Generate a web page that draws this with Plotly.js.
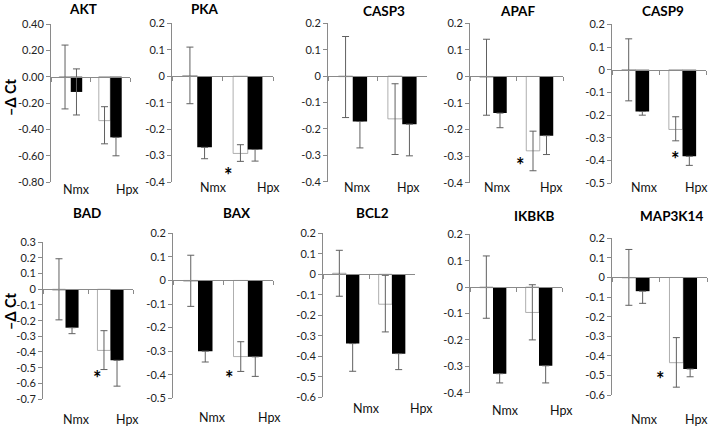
<!DOCTYPE html>
<html><head><meta charset="utf-8">
<script src="https://cdn.plot.ly/plotly-3.0.1.min.js"></script>
<style>html,body{margin:0;padding:0;background:#fff}</style>
</head><body><div id="chart" style="width:709px;height:426px"></div>
<script>
// ---------- data ----------
const genes = ['AKT','PKA','CASP3','APAF','CASP9','BAD','BAX','BCL2','IKBKB','MAP3K14'];
const categories = ['Nmx','Hpx'];
// white bars [Nmx, Hpx]
const whiteValues = [[-0.005,-0.334],[0.002,-0.292],[-0.002,-0.162],[-0.003,-0.28],[-0.002,-0.263],
                     [-0.005,-0.39],[-0.003,-0.323],[0.005,-0.146],[-0.002,-0.096],[-0.002,-0.435]];
const whiteErrUp   = [[0.245,0.106],[0.108,0.033],[0.152,0.133],[0.143,0.074],[0.138,0.056],
                      [0.2,0.126],[0.11,0.063],[0.112,0.141],[0.12,0.105],[0.145,0.128]];
const whiteErrDown = [[0.24,0.176],[0.106,0.03],[0.155,0.135],[0.143,0.075],[0.135,0.05],
                      [0.19,0.122],[0.107,0.063],[0.112,0.135],[0.116,0.104],[0.14,0.125]];
// black bars [Nmx, Hpx] (error drawn downward; upward only where it clears the bar)
const blackValues = [[-0.116,-0.461],[-0.269,-0.277],[-0.172,-0.182],[-0.138,-0.223],[-0.184,-0.381],
                     [-0.245,-0.453],[-0.3,-0.324],[-0.338,-0.387],[-0.328,-0.298],[-0.07,-0.467]];
const blackErr     = [[0.175,0.14],[0.043,0.044],[0.1,0.12],[0.055,0.071],[0.016,0.04],
                      [0.038,0.165],[0.046,0.083],[0.135,0.078],[0.035,0.065],[0.062,0.04]];
// y axis ranges and tick steps
const yMin = [-0.8,-0.4,-0.4,-0.4,-0.5,-0.7,-0.5,-0.6,-0.4,-0.6];
const yMax = [0.4,0.2,0.2,0.2,0.2,0.3,0.2,0.2,0.2,0.2];
const yStep = [0.2,0.1,0.1,0.1,0.1,0.1,0.1,0.1,0.1,0.1];
const yDecimals = [2,1,1,1,1,1,1,1,1,1];
const significant = [false,true,false,true,true,true,true,false,false,true];
const yTitle = '\u2013\u0394 Ct';

// ---------- layout geometry (pixels) ----------
const W = 709, H = 426;
const geom = [
  {x0:51, x1:130, yt:24,   yb:182,   tx:83,  ty:9,   lx:[76,127], ly:189, ax:null},
  {x0:172,x1:273, yt:23.3, yb:182,   tx:205, ty:9,   lx:[214,268],ly:188, ax:[228,170]},
  {x0:328,x1:427, yt:23.3, yb:181.7, tx:384, ty:11,  lx:[357,408],ly:188, ax:null},
  {x0:470,x1:563, yt:23.3, yb:182.7, tx:517, ty:11,  lx:[497,551],ly:188, ax:[520,160]},
  {x0:612,x1:706, yt:24.3, yb:183.3, tx:663, ty:11,  lx:[644,696],ly:188, ax:[675,154]},
  {x0:43, x1:133, yt:242.3,yb:399,   tx:87,  ty:213, lx:[76,127], ly:419, ax:[97,373]},
  {x0:173,x1:273, yt:233.3,yb:398.3, tx:237, ty:213, lx:[213,269],ly:417, ax:[229,373]},
  {x0:323,x1:415, yt:233.3,yb:397.3, tx:373, ty:213, lx:[366,421],ly:408, ax:null},
  {x0:470,x1:562, yt:234.3,yb:392.7, tx:534, ty:216, lx:[505,561],ly:410, ax:null},
  {x0:612,x1:707, yt:238.3,yb:395,   tx:671, ty:216, lx:[644,696],ly:419, ax:[660,374]}
];
const px = x => x / W;
const py = y => 1 - y / H;
const FONT = 'Lato, "Open Sans", sans-serif';
const lineCol = '#8a8a8a';
const errCol = '#606060';

const traces = [];
const layout = {
  width: W, height: H,
  margin: {l:0, r:0, t:0, b:0},
  paper_bgcolor: '#fff', plot_bgcolor: 'rgba(0,0,0,0)',
  showlegend: false,
  barmode: 'group', bargap: 0.42, bargroupgap: 0,
  font: {family: FONT, color: '#111'},
  annotations: []
};

genes.forEach((g, i) => {
  const k = i + 1;
  const xa = 'x' + (k === 1 ? '' : k), ya = 'y' + (k === 1 ? '' : k);
  const G = geom[i];
  traces.push({
    type: 'bar', x: categories, y: whiteValues[i], xaxis: xa, yaxis: ya,
    name: g + ' white',
    marker: {color: '#ffffff', line: {color: '#9a9a9a', width: 0.8}},
    error_y: {type: 'data', symmetric: false, array: whiteErrUp[i], arrayminus: whiteErrDown[i],
              color: errCol, thickness: 1, width: 3.5},
    hoverinfo: 'y'
  });
  // upward whisker is hidden inside the black bar unless it rises above zero
  const upBlack = blackValues[i].map((v, j) => (v + blackErr[i][j] > 0 ? blackErr[i][j] : 0));
  traces.push({
    type: 'bar', x: categories, y: blackValues[i], xaxis: xa, yaxis: ya,
    name: g + ' black',
    marker: {color: '#000000', line: {color: '#000', width: 0}},
    error_y: {type: 'data', symmetric: false, array: upBlack, arrayminus: blackErr[i],
              color: errCol, thickness: 1, width: 3.5},
    hoverinfo: 'y'
  });
  // y ticks
  const tv = [], tt = [];
  const n = Math.round((yMax[i] - yMin[i]) / yStep[i]);
  for (let j = 0; j <= n; j++) {
    const v = +(yMin[i] + j * yStep[i]).toFixed(4);
    tv.push(v);
    tt.push(Math.abs(v) < 1e-9 ? (yDecimals[i] === 2 ? '0.00' : '0') : v.toFixed(yDecimals[i]));
  }
  const zeroPx = G.yt + (yMax[i] / (yMax[i] - yMin[i])) * (G.yb - G.yt);
  layout['xaxis' + (k === 1 ? '' : k)] = {
    domain: [px(G.x0), px(G.x1)],
    type: 'category', range: [-0.5, 1.5],
    anchor: 'free', position: py(zeroPx),
    showline: true, linecolor: lineCol, linewidth: 1,
    ticks: 'outside', tickson: 'boundaries', ticklen: 4, tickcolor: lineCol, tickwidth: 1,
    showticklabels: false, showgrid: false, zeroline: false, fixedrange: true
  };
  layout['yaxis' + (k === 1 ? '' : k)] = {
    domain: [py(G.yb), py(G.yt)],
    anchor: xa, range: [yMin[i], yMax[i]],
    tickmode: 'array', tickvals: tv, ticktext: tt,
    showline: true, linecolor: lineCol, linewidth: 1,
    ticks: 'outside', ticklen: 4, tickcolor: lineCol, tickwidth: 1,
    tickfont: {size: 11, color: '#222', family: FONT},
    showgrid: false, zeroline: false, fixedrange: true
  };
  layout.annotations.push({text: '<b>' + g + '</b>', xref: 'paper', yref: 'paper',
    x: px(G.tx), y: py(G.ty), xanchor: 'center', yanchor: 'middle', showarrow: false,
    font: {size: 13.5, family: FONT, color: '#000'}});
  categories.forEach((c, j) => {
    layout.annotations.push({text: c, xref: 'paper', yref: 'paper',
      x: px(G.lx[j]), y: py(G.ly), xanchor: 'center', yanchor: 'middle', showarrow: false,
      font: {size: 12.5, family: FONT, color: '#111'}});
  });
  if (significant[i] && G.ax) {
    layout.annotations.push({text: '<b>*</b>', xref: 'paper', yref: 'paper',
      x: px(G.ax[0]), y: py(G.ax[1] + 5), xanchor: 'center', yanchor: 'middle', showarrow: false,
      font: {size: 20, family: FONT, color: '#000'}});
  }
});
[[10, 98], [10, 312]].forEach(p => {
  layout.annotations.push({text: '<b>' + yTitle + '</b>', xref: 'paper', yref: 'paper',
    x: px(p[0]), y: py(p[1]), xanchor: 'center', yanchor: 'middle', textangle: -90, showarrow: false,
    font: {size: 14.5, family: FONT, color: '#000'}});
});

Plotly.newPlot('chart', traces, layout, {displayModeBar: false, staticPlot: true});
</script>
</body></html>
